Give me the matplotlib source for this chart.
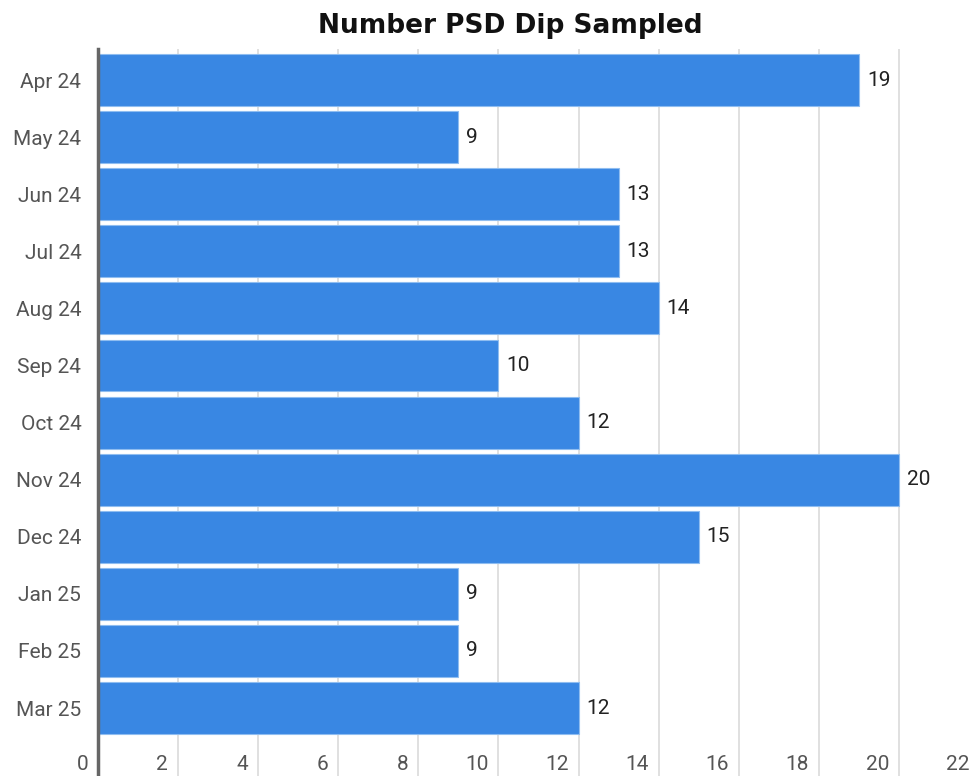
import matplotlib
matplotlib.use("Agg")
import matplotlib.pyplot as plt
import matplotlib.transforms as mtransforms

months = ["Apr 24", "May 24", "Jun 24", "Jul 24", "Aug 24", "Sep 24",
          "Oct 24", "Nov 24", "Dec 24", "Jan 25", "Feb 25", "Mar 25"]
counts = [19, 9, 13, 13, 14, 10, 12, 20, 15, 9, 9, 12]
xticks = [0, 2, 4, 6, 8, 10, 12, 14, 16, 18, 20, 22]

W, H = 971, 776
fig = plt.figure(figsize=(W / 100, H / 100), dpi=100)
plt.rcParams['font.family'] = ['Roboto', 'DejaVu Sans']

left, right, top, bottom = 98, 979, 49, 776
ax = fig.add_axes([left / W, 1 - bottom / H, (right - left) / W, (bottom - top) / H])

ypos = list(range(len(months)))
bars = ax.barh(ypos, counts, height=0.91, color="#3987E3",
               edgecolor="#8FBDF0", linewidth=0.8, zorder=3)

ax.set_xlim(0, 22)
ax.set_ylim(11 + 1.19, -0.543)
ax.set_xticks(xticks)
ax.set_xticklabels([str(t) for t in xticks])
ax.set_yticks(ypos)
ax.set_yticklabels(months)

ax.grid(axis="x", color="#DDDDDD", linewidth=1.3, zorder=0)
ax.grid(axis="y", visible=False)
for s in ["top", "right", "bottom"]:
    ax.spines[s].set_visible(False)
ax.spines["left"].set_color("#666666")
ax.spines["left"].set_linewidth(2.5)
ax.spines["left"].set_zorder(4)

ax.tick_params(axis="both", length=0, colors="#555555", labelsize=15)
ax.tick_params(axis="y", pad=12)
ax.tick_params(axis="x", pad=-15)
offset = mtransforms.ScaledTranslation(-10 / 100, 0, fig.dpi_scale_trans)
for lbl in ax.get_xticklabels():
    lbl.set_horizontalalignment("right")
    lbl.set_transform(lbl.get_transform() + offset)

for b, v in zip(bars, counts):
    ax.annotate(str(v), (b.get_width(), b.get_y() + b.get_height() / 2),
                xytext=(8, 0), textcoords="offset pixels",
                va="center", ha="left", fontsize=15, color="#222222")

fig.text(510 / W, 1 - 26 / H, "Number PSD Dip Sampled", ha="center", va="center",
         fontsize=19, fontweight="bold", color="#111111",
         family=["DejaVu Sans"])

fig.savefig("out.png", dpi=100)
